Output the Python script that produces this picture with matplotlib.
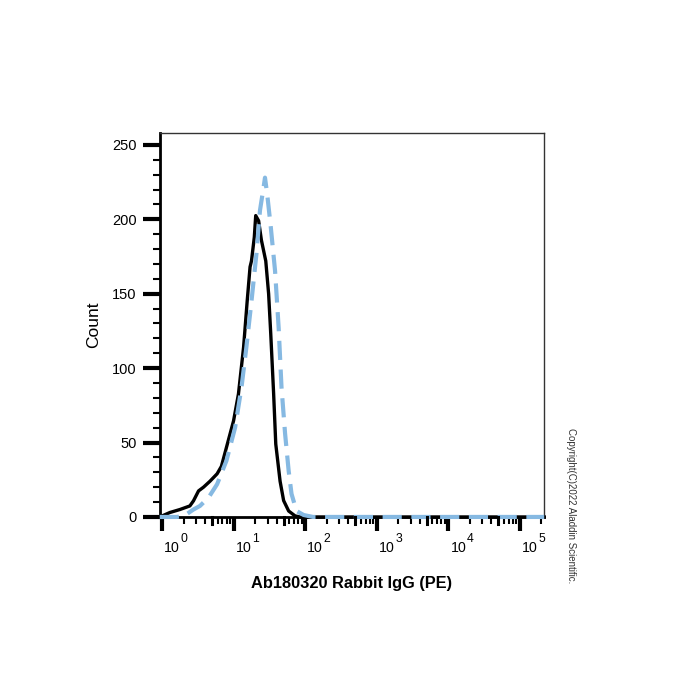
import matplotlib
matplotlib.use('Agg')
import matplotlib.pyplot as plt
from matplotlib.ticker import FixedLocator, NullFormatter
from matplotlib.transforms import ScaledTranslation

plt.rcParams['font.family'] = ['Liberation Sans', 'DejaVu Sans']

# black solid histogram (antibody)
ab_x = [0.93, 1.29, 1.78, 2.45, 2.75, 3.24, 3.8, 4.68, 5.89, 6.76, 7.94, 10.0, 11.7,
        13.8, 15.5, 17.0, 17.8, 19.5, 20.4, 22.4, 24.5, 28.2, 30.9, 33.1, 36.3, 38.9,
        44.7, 50.1, 58.9, 72.4, 85.1, 300, 3000, 30000, 220000]
ab_y = [0, 3, 5, 7.4, 10.8, 17.5, 20, 24, 29, 34, 46.6, 64.6, 82.6,
        114, 145, 168, 172, 188, 202.5, 199, 186, 172, 150, 123, 83, 49,
        24, 11, 4, 0.7, 0, 0, 0, 0, 0]

# blue dashed histogram (isotype control)
iso_x = [0.93, 1.6, 2.0, 2.75, 3.39, 4.47, 5.89, 7.94, 10.5, 12.9, 15.1, 17.8, 20.9,
         23.4, 26.3, 27.5, 29.5, 33.1, 38.0, 42.7, 46.8, 52.5, 58.9, 64.6, 75.9,
         95.5, 129, 1000, 10000, 220000]
iso_y = [0, 0, 0.5, 5, 7.4, 13, 22, 37.7, 60, 87, 114, 145, 177,
         206, 221.6, 228, 217, 195, 165.5, 127, 87, 56, 31, 15.5, 4,
         1.3, 0, 0, 0, 0]

decades = [1, 10, 100, 1000, 10000, 100000]
decade_labels = ['0', '1', '2', '3', '4', '5']

fig = plt.figure(figsize=(7, 7), dpi=100)
ax = fig.add_axes([0.2286, 0.2615, 0.5486, 0.5485])

ax.plot(ab_x, ab_y, color='black', lw=2.4, zorder=3, clip_on=False,
        solid_joinstyle='round')
ax.plot(iso_x, iso_y, color='#86b9e2', lw=3.0, ls=(0, (4.6, 2.3)), zorder=4,
        clip_on=False)

ax.set_xscale('log')
ax.set_xlim(10 ** -0.028, 10 ** 5.34)
ax.set_ylim(0, 258)

# x ticks
ax.xaxis.set_major_locator(FixedLocator(decades))
minor = []
mid = []
for d in decades + [1000000]:
    for m in [2, 3, 4, 6, 7, 8, 9]:
        minor.append(d * m)
    mid.append(d * 5)
ax.xaxis.set_minor_locator(FixedLocator(minor))
ax.xaxis.set_major_formatter(NullFormatter())
ax.xaxis.set_minor_formatter(NullFormatter())
ax.tick_params(axis='x', which='major', direction='out', length=10, width=3, color='black')
ax.tick_params(axis='x', which='minor', direction='out', length=5, width=1.5, color='black')
for m in mid:
    if m < 10 ** 5.34:
        ax.plot([m, m], [0, -7 / 1.486], color='black', lw=2.2, clip_on=False, zorder=5)

# decade labels "10" with raised exponent, sitting a little right of each tick
base_shift = ScaledTranslation(18 / 100, -35 / 100, fig.dpi_scale_trans)
exp_shift = ScaledTranslation(18.5 / 100, -25 / 100, fig.dpi_scale_trans)
xt = ax.get_xaxis_transform()
for d, e in zip(decades, decade_labels):
    ax.text(d, 0, '10', transform=xt + base_shift, ha='right', va='baseline', fontsize=10.2)
    ax.text(d, 0, e, transform=xt + exp_shift, ha='left', va='baseline', fontsize=8.8)

# y ticks
ax.set_yticks([0, 50, 100, 150, 200, 250])
ax.set_yticks(list(range(10, 251, 10)), minor=True)
ax.tick_params(axis='y', which='major', direction='out', length=12, width=3, labelsize=10.5,
               pad=5, color='black')
ax.tick_params(axis='y', which='minor', direction='out', length=5, width=1.5, color='black')

for side in ['left', 'bottom']:
    ax.spines[side].set_linewidth(2)
for side in ['top', 'right']:
    ax.spines[side].set_linewidth(1)
    ax.spines[side].set_color('#333333')

ax.set_ylabel('Count', fontsize=12.5, labelpad=8)
ax.set_xlabel('Ab180320 Rabbit IgG (PE)', fontsize=11.8, fontweight='bold', labelpad=29)

fig.text(0.816, 0.277, 'Copyright(C)2022 Aladdin Scientific.', rotation=-90,
         fontsize=7, color='#333333', ha='center', va='center')

fig.savefig('out.png', dpi=100)
